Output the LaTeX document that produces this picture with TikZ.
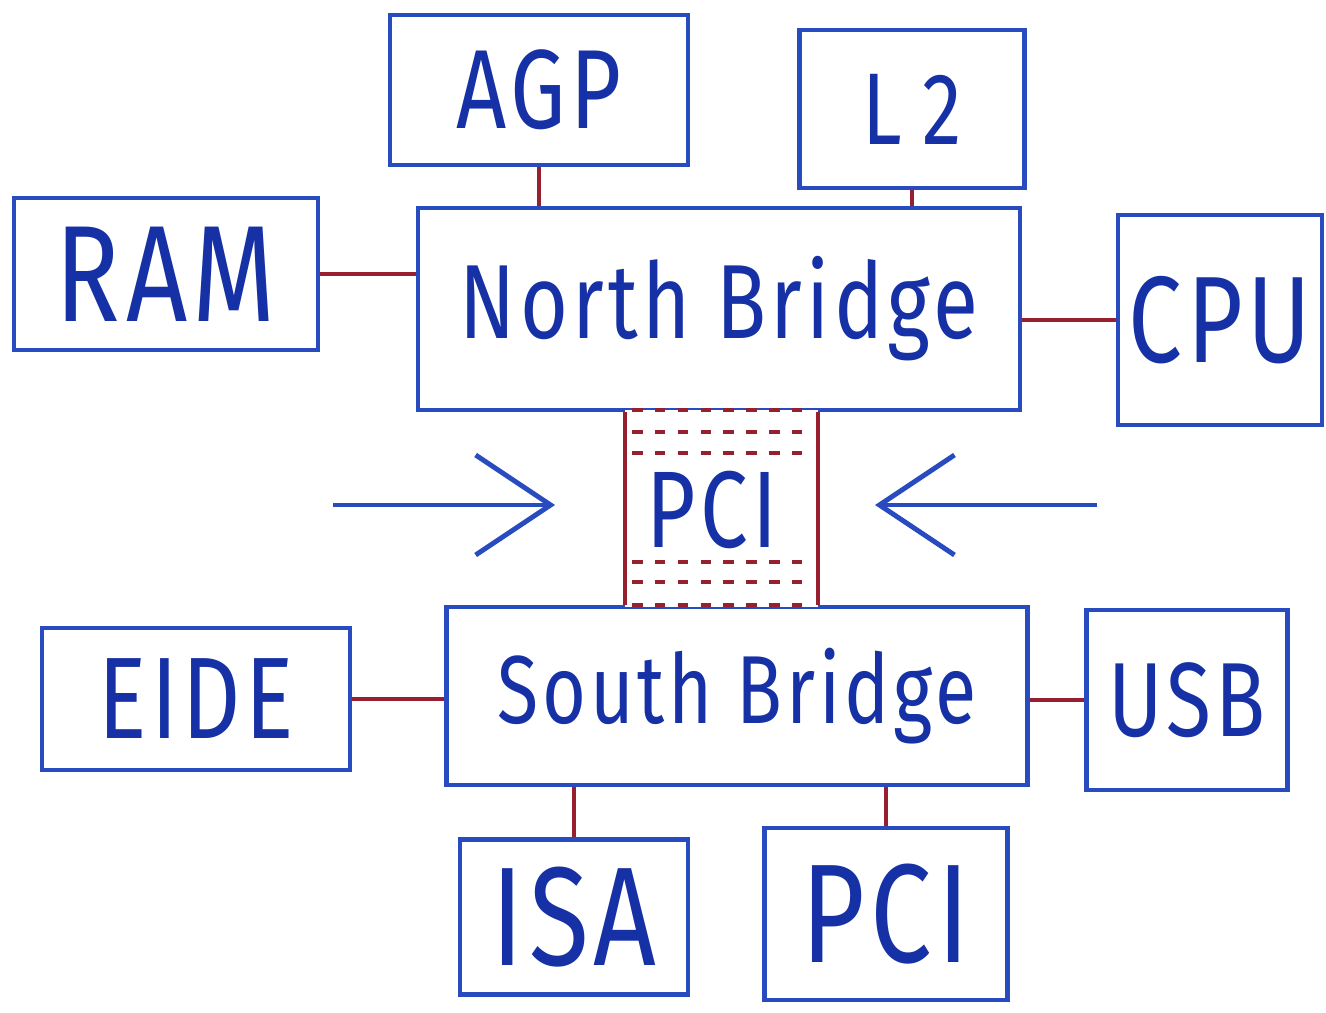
\documentclass[tikz,border=0pt]{standalone}
\usepackage{fontspec}
\newfontfamily\hand[FakeStretch=0.78,LetterSpace=4]{Fira Sans}
\usetikzlibrary{arrows.meta}
\definecolor{penblue}{RGB}{40,75,192}
\definecolor{inkblue}{RGB}{22,48,165}
\definecolor{penred}{RGB}{150,32,45}
\newcommand{\sz}[1]{\fontsize{#1}{#1}\selectfont}
\tikzset{
  box/.style={draw=penblue,line width=2.6pt,inner sep=0pt,text=inkblue},
  wire/.style={draw=penred,line width=2.2pt},
  busdash/.style={draw=penred,line width=2.2pt,dash pattern=on 6pt off 7pt},
  bigarrow/.style={draw=penblue,line width=2.8pt,-{Straight Barb[length=1.5cm,width=2cm]}}
}
\begin{document}
\begin{tikzpicture}[x=0.02cm,y=-0.02cm]
\useasboundingbox (0,0) rectangle (1326,1013);

% boxes
\node[box,minimum width=5.96cm,minimum height=3cm,font=\hand\sz{64}] (agp) at (539,90) {AGP};
\node[box,minimum width=4.5cm,minimum height=3.16cm,font=\hand\sz{58}] (l2) at (912,109) {L\hspace{0.2em}2};
\node[box,minimum width=6.08cm,minimum height=3.04cm,font=\hand\sz{78}] (ram) at (166,274) {RAM};
\node[box,minimum width=12.04cm,minimum height=4.04cm,font=\hand\sz{60}] (nb) at (719,309) {North Bridge};
\node[box,minimum width=4.08cm,minimum height=4.2cm,font=\hand\sz{70}] (cpu) at (1220,320) {CPU};
\node[box,minimum width=11.62cm,minimum height=3.56cm,font=\hand\sz{55}] (sb) at (737,696) {South Bridge};
\node[box,minimum width=6.16cm,minimum height=2.84cm,font=\hand\sz{66}] (eide) at (196,699) {EIDE};
\node[box,minimum width=4.02cm,minimum height=3.6cm,font=\hand\sz{60}] (usb) at (1187,700) {USB};
\node[box,minimum width=4.56cm,minimum height=3.1cm,font=\hand\sz{80}] (isa) at (574,917) {ISA};
\node[box,minimum width=4.86cm,minimum height=3.44cm,font=\hand\sz{80}] (pcib) at (886,914) {PCI};

% wires
\draw[wire] (agp.south) -- (agp.south |- nb.north);
\draw[wire] (l2.south) -- (l2.south |- nb.north);
\draw[wire] (ram.east) -- (ram.east -| nb.west);
\draw[wire] (cpu.west) -- (cpu.west -| nb.east);
\draw[wire] (eide.east) -- (eide.east -| sb.west);
\draw[wire] (usb.west) -- (usb.west -| sb.east);
\draw[wire] (isa.north) -- (isa.north |- sb.south);
\draw[wire] (pcib.north) -- (pcib.north |- sb.south);

% pci bus
\coordinate (busl) at (625,0);
\coordinate (busr) at (818,0);
\draw[white,line width=3pt] (busl |- nb.south) -- (busr |- nb.south);
\draw[white,line width=3pt] (busl |- sb.north) -- (busr |- sb.north);
\draw[wire] (busl |- nb.south) -- (busl |- sb.north);
\draw[wire] (busr |- nb.south) -- (busr |- sb.north);
\foreach \y in {410,432,453,562,582,605}
{\draw[busdash] (632,\y) -- (812,\y);}
\node[text=inkblue,font=\hand\sz{62}] (pci) at (712,510) {PCI};

% arrows
\coordinate (lfrom) at (333,505);
\coordinate (rfrom) at (1097,505);
\draw[bigarrow] (lfrom) -- (555,505);
\draw[bigarrow] (rfrom) -- (875,505);

\end{tikzpicture}
\end{document}
